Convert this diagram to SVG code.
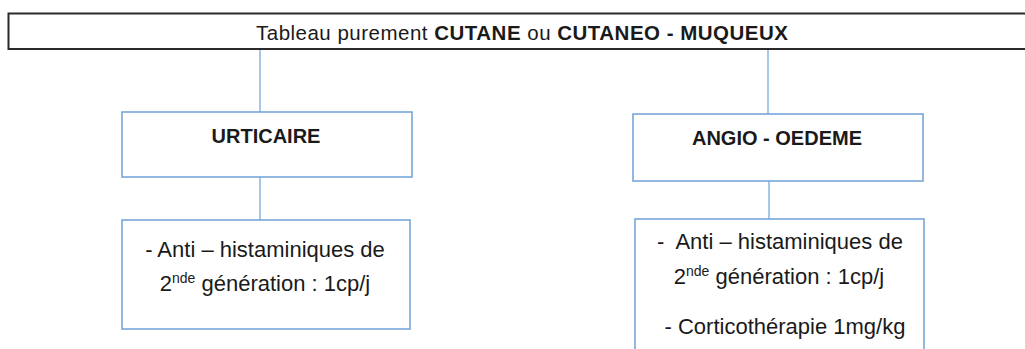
<svg xmlns="http://www.w3.org/2000/svg" width="1025" height="349" viewBox="0 0 1025 349">
<style>
.box{fill:#fff;stroke:#6fa0d8;stroke-width:1.5}
.top{fill:#fff;stroke:#2a2a2a;stroke-width:2}
.ln{stroke:#8cb4e2;stroke-width:1.5;fill:none}
text{font-family:"Liberation Sans",Arial,sans-serif;fill:#1a1a1a;text-anchor:middle}
.t{font-size:20.5px}
.h{font-size:20px;font-weight:bold}
.b{font-size:22px}
.sup{font-size:14px}
</style>
<rect width="1025" height="349" fill="#fff"/>
<g id="connectors">
<line class="ln" x1="260" y1="49" x2="260" y2="112"/>
<line class="ln" x1="768" y1="49" x2="768" y2="114"/>
<line class="ln" x1="260" y1="177" x2="260" y2="220"/>
<line class="ln" x1="769" y1="181" x2="769" y2="219"/>
</g>
<g id="n-top">
<rect class="top" x="8.5" y="13.5" width="1030" height="35.5"/>
<text class="t" x="522" y="40" textLength="532" lengthAdjust="spacing">Tableau purement <tspan font-weight="bold">CUTANE</tspan> ou <tspan font-weight="bold">CUTANEO - MUQUEUX</tspan></text>
</g>
<g id="n-urticaire">
<rect class="box" x="122" y="112" width="290" height="65"/>
<text class="h" x="266" y="143">URTICAIRE</text>
</g>
<g id="n-angio">
<rect class="box" x="633" y="114" width="290" height="67"/>
<text class="h" x="777" y="145">ANGIO - OEDEME</text>
</g>
<g id="n-urt-ttt">
<rect class="box" x="122" y="220" width="288" height="109"/>
<text class="b" x="265" y="257">- Anti – histaminiques de</text>
<text class="b" x="265" y="291">2<tspan class="sup" dy="-8">nde</tspan><tspan dy="8"> génération : 1cp/j</tspan></text>
</g>
<g id="n-angio-ttt">
<rect class="box" x="635" y="219" width="289" height="140"/>
<text class="b" x="780" y="249" style="white-space:pre">-  Anti – histaminiques de</text>
<text class="b" x="779" y="284">2<tspan class="sup" dy="-8">nde</tspan><tspan dy="8"> génération : 1cp/j</tspan></text>
<text class="b" x="785" y="334">- Corticothérapie 1mg/kg</text>
</g>
</svg>
